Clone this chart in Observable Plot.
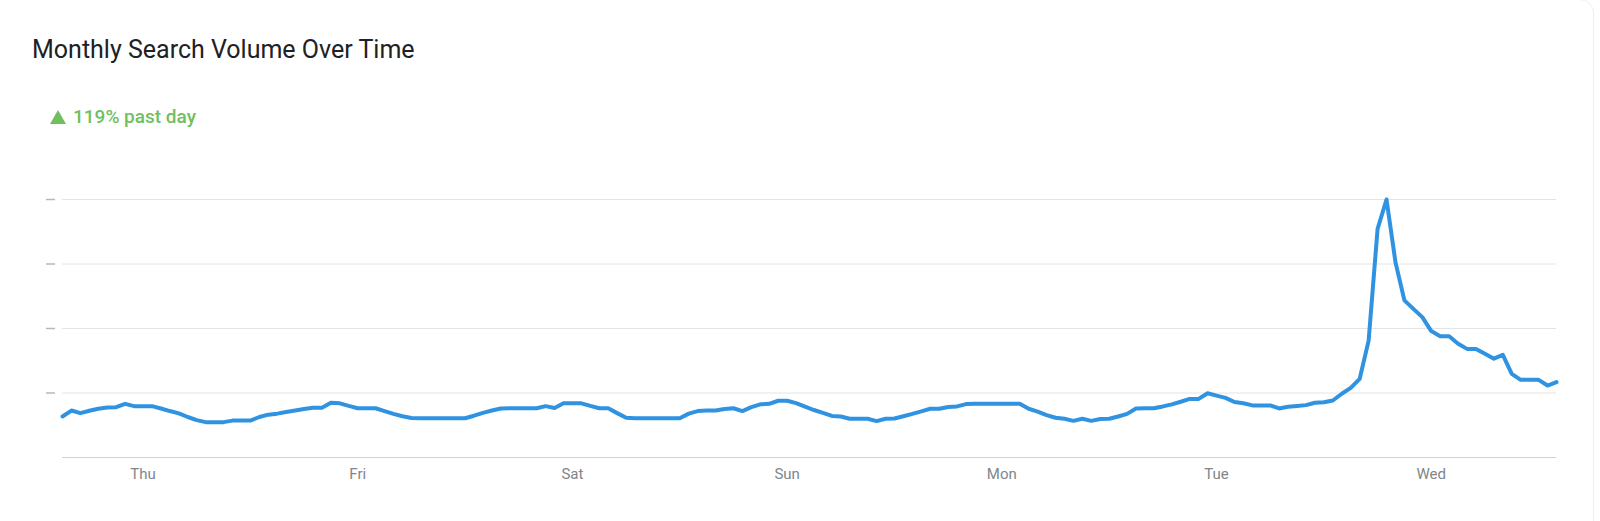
<!DOCTYPE html>
<html>
<head>
<meta charset="utf-8">
<script src="https://cdn.jsdelivr.net/npm/d3@7"></script>
<script src="https://cdn.jsdelivr.net/npm/@observablehq/plot@0.6"></script>
<style>
  html, body { margin: 0; padding: 0; background: #ffffff; }
  body { width: 1600px; height: 521px; position: relative; overflow: hidden; font-family: Roboto, "Noto Sans", sans-serif; }
  #card { position: absolute; left: -20px; top: -1px; width: 1614px; height: 560px; border: 1px solid #efefef; border-radius: 14px; box-sizing: border-box; }
  #title { position: absolute; left: 32px; top: 37px; font-size: 25px; line-height: 25px; color: #202124; font-weight: 400; white-space: nowrap; }
  #delta { position: absolute; left: 50px; top: 107px; font-size: 19px; line-height: 19px; color: #70bf5e; font-weight: 500; white-space: nowrap; display: flex; align-items: flex-start; }
  #delta svg { margin-top: 3px; margin-right: 7px; }
  #chart { position: absolute; left: 0; top: 150px; }
</style>
</head>
<body>
<div id="card"></div>
<div id="title">Monthly Search Volume Over Time</div>
<div id="delta"><svg width="16" height="14" viewBox="0 0 16 14"><polygon points="8,0 16,14 0,14" fill="#70bf5e"/></svg><span>119% past day</span></div>
<div id="chart"></div>
<script>
// Hourly relative search interest, starting Wed 15:00 (index 0); Thu 00:00 is index 9
const values = [
  15.9, 18.2, 17.2, 18.1, 18.9, 19.4, 19.5, 20.8, 19.9, 19.9,
  19.9, 19.0, 18.0, 17.1, 15.7, 14.5, 13.7, 13.7, 13.7, 14.3,
  14.3, 14.3, 15.7, 16.6, 17.0, 17.6, 18.2, 18.8, 19.3, 19.3,
  21.2, 21.0, 20.0, 19.1, 19.1, 19.1, 18.0, 16.9, 16.0, 15.3,
  15.2, 15.2, 15.2, 15.2, 15.2, 15.2, 16.2, 17.3, 18.2, 19.0,
  19.1, 19.1, 19.1, 19.1, 19.9, 19.2, 21.0, 21.0, 21.0, 20.0,
  19.1, 19.1, 17.2, 15.4, 15.2, 15.2, 15.2, 15.2, 15.2, 15.2,
  17.0, 18.0, 18.2, 18.2, 18.8, 19.1, 18.0, 19.5, 20.6, 20.8,
  22.0, 22.0, 21.1, 19.7, 18.4, 17.3, 16.1, 15.9, 15.0, 15.0,
  15.0, 14.1, 15.0, 15.1, 16.0, 16.9, 17.9, 18.9, 18.9, 19.6,
  19.8, 20.7, 20.8, 20.8, 20.8, 20.8, 20.8, 20.8, 18.9, 17.8,
  16.4, 15.4, 15.0, 14.2, 15.0, 14.2, 14.9, 15.0, 15.9, 16.9,
  19.0, 19.1, 19.1, 19.8, 20.6, 21.6, 22.7, 22.7, 24.9, 24.0,
  23.1, 21.5, 21.0, 20.2, 20.2, 20.2, 19.0, 19.7, 20.0, 20.3,
  21.2, 21.4, 22.1, 24.7, 27.0, 30.5, 45.3, 88.6, 100, 75.7,
  60.9, 57.6, 54.4, 49.0, 47.0, 47.0, 44.1, 42.1, 42.1, 40.2,
  38.3, 39.8, 32.4, 30.1, 30.1, 30.1, 27.9, 29.2
];
const dayLabels = ["Thu", "Fri", "Sat", "Sun", "Mon", "Tue", "Wed"];
const dayTickIndex = [9, 33, 57, 81, 105, 129, 153];
const gridValues = [25, 50, 75, 100];

const data = values.map((v, i) => ({i, v}));

const chart = Plot.plot({
  width: 1600,
  height: 350,
  marginLeft: 62,
  marginRight: 44,
  marginTop: 49,
  marginBottom: 43,
  x: {domain: [0, values.length - 1]},
  y: {domain: [0, 100]},
  style: {fontFamily: "Roboto, sans-serif", fontSize: "15px", color: "#80868b", background: "transparent", overflow: "visible"},
  marks: [
    Plot.gridY(gridValues, {stroke: "#e4e4e4", strokeOpacity: 1}),
    Plot.ruleY([0], {stroke: "#d2d2d2"}),
    Plot.axisY(gridValues, {tickSize: 9, dx: -7, stroke: "#b8b8b8", strokeWidth: 1.5, tickFormat: () => "", label: null}),
    Plot.axisX(dayTickIndex, {tickSize: 0, tickPadding: 11, tickFormat: (d) => dayLabels[dayTickIndex.indexOf(d)], fill: "#80868b", label: null}),
    Plot.lineY(data, {x: "i", y: "v", stroke: "#2f93e2", strokeWidth: 4, strokeLinejoin: "round", strokeLinecap: "round"})
  ]
});
document.getElementById("chart").appendChild(chart);
</script>
</body>
</html>
